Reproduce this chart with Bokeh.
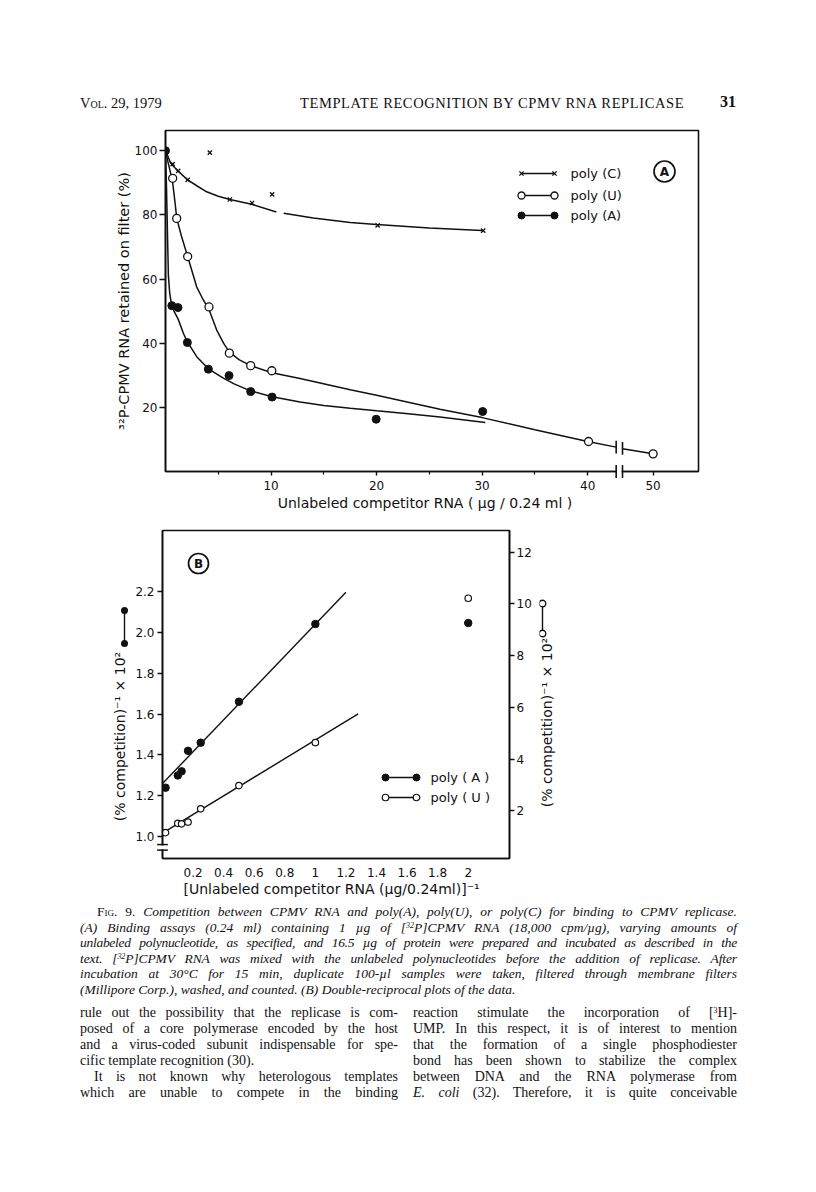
import math
from bokeh.plotting import figure
from bokeh.models import Range1d, LinearAxis, FixedTicker, Div
from bokeh.layouts import column, row
from bokeh.embed import file_html
from bokeh.resources import INLINE
from bokeh.core.properties import value

# ---------------- Panel A data ----------------
polyC_x = [0.68, 1.2, 2.1, 4.2, 6.1, 8.2, 10.1, 20.1, 30.1]
polyC_y = [95.8, 93.7, 90.9, 99.4, 84.8, 83.7, 86.4, 76.7, 75.1]
polyU_x = [0.68, 1.06, 2.1, 4.12, 6.05, 8.07, 10.07, 40.08, 50.0]
polyU_y = [91.4, 78.9, 67.0, 51.3, 36.9, 33.0, 31.4, 9.35, 5.5]
polyA_x = [0.0, 0.6, 1.18, 2.07, 4.06, 6.02, 8.07, 10.1, 19.96, 30.05]
polyA_y = [100.0, 51.7, 51.1, 40.2, 31.9, 29.9, 24.9, 23.2, 16.3, 18.7]

# hand-drawn fitted curves
curveC1_x = [0, 0.2, 0.49, 1.2, 2.1, 3.0, 3.9, 5.0, 6.1, 8.17, 10.5]
curveC1_y = [100, 98.5, 96.1, 93.6, 90.9, 89.0, 87.2, 85.8, 84.8, 83.3, 80.9]
curveC2_x = [11.2, 14.0, 17.5, 20.0, 25.0, 30.0]
curveC2_y = [80.5, 79.0, 77.6, 77.0, 75.9, 75.1]
curveU1_x = [0, 0.2, 0.45, 0.68, 0.9, 1.06, 1.5, 2.1, 2.96, 3.5, 4.12, 4.85, 5.5,
             6.05, 7.0, 8.07, 10.07, 12.75, 17.5, 20.0, 26.0, 30.0, 35.0, 40.0, 42.7]
curveU1_y = [100, 97, 93.5, 90.0, 84.0, 79.0, 73.5, 67.0, 57.5, 54.0, 50.5, 44.1, 40.0,
             37.2, 34.8, 33.0, 30.8, 29.0, 25.5, 23.8, 19.4, 16.8, 13.0, 9.35, 7.6]
curveU2_x = [47.1, 50.0]
curveU2_y = [7.1, 5.5]
curveA_x = [0, 0.1, 0.17, 0.27, 0.4, 0.55, 0.8, 1.2, 1.69, 2.07, 2.96, 4.06, 5.48,
            6.5, 8.0, 10.1, 12.75, 15.0, 17.5, 20.0, 23.0, 26.0, 30.3]
curveA_y = [100, 88, 77, 61.3, 55.5, 52.5, 50.0, 47.5, 43.1, 40.4, 35.8, 32.0, 29.1,
            27.3, 25.2, 23.3, 21.7, 20.6, 19.7, 18.9, 18.0, 17.0, 15.3]

xticksA = [10, 20, 30, 40, 50]
yticksA = [20, 40, 60, 80, 100]

# ---------------- Panel B data (double reciprocal) ----------------
inv_x = [0.02, 0.1, 0.125, 0.167, 0.25, 0.5, 1.0, 2.0]
invA_y = [1.24, 1.30, 1.32, 1.42, 1.46, 1.66, 2.04, 2.045]      # left axis
invU_y = [1.16, 1.52, 1.50, 1.57, 2.08, 2.98, 4.64, 10.22]      # right axis
fitA_x = [0.0, 1.2]
fitA_y = [1.26, 2.195]
fitU_x = [0.0, 1.28]
fitU_y = [1.14, 5.75]

xticksB = [0.2, 0.4, 0.6, 0.8, 1.0, 1.2, 1.4, 1.6, 1.8, 2.0]
yticksB_left = [1.0, 1.2, 1.4, 1.6, 1.8, 2.0, 2.2]
yticksB_right = [2, 4, 6, 8, 10, 12]

# ---------------- styling ----------------
SANS = "DejaVu Sans"
INK = "#111111"
AXIS_CUT = 3.8          # broken x axis in panel A: 47.1 -> 43.3
BREAK_L, BREAK_R = 42.7, 43.3
EM = "\u2003"


def apos(x):
    return x if x <= 43 else x - AXIS_CUT


def apos_list(xs):
    return [apos(v) for v in xs]


def style_axis(ax):
    ax.axis_line_color = INK
    ax.axis_line_width = 1.6
    ax.major_tick_line_color = INK
    ax.major_tick_line_width = 1.4
    ax.minor_tick_line_color = INK
    ax.minor_tick_line_width = 1.2
    ax.major_tick_in = 0
    ax.minor_tick_in = 0
    ax.major_label_text_font = SANS
    ax.major_label_text_font_size = "12px"
    ax.major_label_text_color = INK
    ax.axis_label_text_font = SANS
    ax.axis_label_text_font_style = "normal"
    ax.axis_label_text_color = INK
    ax.axis_label_text_font_size = "14px"


# ---- panel A geometry (page px) ----
A_L, A_T, A_W, A_H = 165, 130, 533, 341
A_X0, A_X1, A_Y0, A_Y1 = 0.0, 50.5, 0.0, 106.3
A_TOP_PAGE = 118


def adx(px):
    return A_X0 + (px - A_L) / A_W * (A_X1 - A_X0)


def ady(py):
    return A_Y1 - (py - A_T) / A_H * (A_Y1 - A_Y0)


pA = figure(frame_width=A_W, frame_height=A_H, min_border_left=A_L,
            min_border_right=800 - A_L - A_W, min_border_top=A_T - A_TOP_PAGE,
            min_border_bottom=47,
            x_range=Range1d(A_X0, A_X1), y_range=Range1d(A_Y0, A_Y1),
            output_backend="svg", toolbar_location=None)
pA.grid.visible = False
pA.outline_line_color = INK
pA.outline_line_width = 1.6
pA.background_fill_color = "white"
pA.border_fill_color = "white"

xa = pA.xaxis[0]
xa.ticker = FixedTicker(ticks=apos_list(xticksA), minor_ticks=[5, 15, 25, 35])
xa.major_label_overrides = {apos(t): str(t) for t in xticksA}
ya = pA.yaxis[0]
ya.ticker = FixedTicker(ticks=yticksA, minor_ticks=[])
style_axis(xa)
style_axis(ya)
xa.major_tick_out = 4
xa.minor_tick_out = 3
xa.major_label_standoff = 5
ya.major_tick_out = 6
ya.major_label_standoff = 2
ya.axis_label = "³²P-CPMV RNA retained on filter (%)"
ya.axis_label_text_font_size = "14.5px"
ya.axis_label_standoff = 0
xa.axis_label = "Unlabeled competitor RNA ( µg / 0.24 ml )" + EM
xa.axis_label_standoff = 2

# curves
for cx, cy in ((curveC1_x, curveC1_y), (curveC2_x, curveC2_y), (curveU1_x, curveU1_y),
               (curveU2_x, curveU2_y), (curveA_x, curveA_y)):
    pA.line(apos_list(cx), cy, line_color=INK, line_width=1.5)

# break marks on the poly(U) curve and on the x axis
pA.segment(x0=[BREAK_L, BREAK_R], x1=[BREAK_L, BREAK_R], y0=[5.6, 5.2], y1=[9.6, 9.2],
           line_color=INK, line_width=1.6)
pA.segment(x0=[BREAK_L + 0.08], x1=[BREAK_R - 0.08], y0=[0], y1=[0], line_color="white",
           line_width=3.5, level="overlay")
pA.segment(x0=[BREAK_L, BREAK_R], x1=[BREAK_L, BREAK_R], y0=[-2.0, -2.0], y1=[2.0, 2.0],
           line_color=INK, line_width=1.6, level="overlay")

# points
pA.scatter(apos_list(polyC_x), polyC_y, marker="x", size=6, line_color=INK, line_width=1.3)
pA.scatter(apos_list(polyU_x), polyU_y, marker="circle", size=8, fill_color="white",
           line_color=INK, line_width=1.3)
pA.scatter(apos_list(polyA_x), polyA_y, marker="circle", size=8, fill_color=INK,
           line_color=INK)

# legend (drawn like the original)
lx0, lx1, ltx = adx(521), adx(554), adx(570)
leg_y = [ady(173), ady(195), ady(215)]
pA.segment(x0=[lx0] * 3, x1=[lx1] * 3, y0=leg_y, y1=leg_y, line_color=INK, line_width=1.5)
pA.scatter([lx0, lx1], [leg_y[0]] * 2, marker="x", size=6, line_color=INK, line_width=1.3)
pA.scatter([lx0, lx1], [leg_y[1]] * 2, marker="circle", size=7, fill_color="white",
           line_color=INK, line_width=1.3)
pA.scatter([lx0, lx1], [leg_y[2]] * 2, marker="circle", size=7, fill_color=INK, line_color=INK)
pA.text([ltx] * 3, leg_y, text=["poly (C)", "poly (U)", "poly (A)"], text_font=value(SANS),
        text_font_size="13px", text_baseline="middle", text_align="left", text_color=INK)

# circled letter A
pA.scatter([adx(664)], [ady(171)], marker="circle", size=21, fill_color=None, line_color=INK,
           line_width=1.7)
pA.text([adx(664)], [ady(171)], text=["A"], text_font=value(SANS), text_font_size="12px",
        text_font_style="bold", text_baseline="middle", text_align="center", text_color=INK)

# ---- panel B geometry ----
B_L, B_T, B_W, B_H = 162, 530, 347, 328
B_X0, B_X1 = 0.0, 2.27
BL0, BL1 = 0.894, 2.497
BR0, BR1 = 0.16, 12.84
B_TOP_PAGE = 518
B_RIGHT_BORDER = 30
B_BOTTOM_BORDER = 44


def bdx(px):
    return B_X0 + (px - B_L) / B_W * (B_X1 - B_X0)


def bdy(py):
    return BL1 - (py - B_T) / B_H * (BL1 - BL0)


pB = figure(frame_width=B_W, frame_height=B_H, min_border_left=B_L,
            min_border_right=B_RIGHT_BORDER, min_border_top=B_T - B_TOP_PAGE,
            min_border_bottom=B_BOTTOM_BORDER, x_range=Range1d(B_X0, B_X1),
            y_range=Range1d(BL0, BL1), output_backend="svg", toolbar_location=None)
pB.extra_y_ranges = {"right": Range1d(BR0, BR1)}
pB.grid.visible = False
pB.outline_line_color = INK
pB.outline_line_width = 1.6
pB.background_fill_color = "white"
pB.border_fill_color = "white"
rax = LinearAxis(y_range_name="right")
pB.add_layout(rax, "right")

bx = pB.xaxis[0]
bx.ticker = FixedTicker(ticks=xticksB, minor_ticks=[])
bx.major_label_overrides = {1.0: "1", 2.0: "2"}
by = pB.yaxis[0]
by.ticker = FixedTicker(ticks=yticksB_left, minor_ticks=[])
by.major_label_overrides = {1.0: "1.0", 2.0: "2.0"}
rax.ticker = FixedTicker(ticks=yticksB_right, minor_ticks=[])
for ax in (bx, by, rax):
    style_axis(ax)
    ax.major_tick_out = 5
bx.major_tick_out = 0
bx.major_label_standoff = 9
by.major_label_standoff = 3
rax.major_label_standoff = 2

LBL_B = "(% competition)⁻¹ × 10²"
by.axis_label = LBL_B + EM * 6
by.axis_label_standoff = 4
bx.axis_label = "[Unlabeled  competitor  RNA (µg/0.24ml)]⁻¹"
bx.axis_label_standoff = 1

pB.line(fitA_x, fitA_y, line_color=INK, line_width=1.4)
pB.line(fitU_x, fitU_y, line_color=INK, line_width=1.4, y_range_name="right")
pB.scatter(inv_x, invA_y, marker="circle", size=7.5, fill_color=INK, line_color=INK)
pB.scatter(inv_x, invU_y, marker="circle", size=6.5, fill_color="white", line_color=INK,
           line_width=1.2, y_range_name="right")

# break on the left axis
pB.segment(x0=[0], x1=[0], y0=[0.938], y1=[0.958], line_color="white", line_width=4,
           level="overlay")
pB.segment(x0=[-0.035, -0.035], x1=[0.035, 0.035], y0=[0.962, 0.935], y1=[0.962, 0.935],
           line_color=INK, line_width=1.5, level="overlay")

# legend B
bl0, bl1, btx = bdx(385), bdx(416), bdx(430)
by_leg = [bdy(777), bdy(797)]
pB.segment(x0=[bl0] * 2, x1=[bl1] * 2, y0=by_leg, y1=by_leg, line_color=INK, line_width=1.5)
pB.scatter([bl0, bl1], [by_leg[0]] * 2, marker="circle", size=7, fill_color=INK, line_color=INK)
pB.scatter([bl0, bl1], [by_leg[1]] * 2, marker="circle", size=6.5, fill_color="white",
           line_color=INK, line_width=1.2)
pB.text([btx] * 2, by_leg, text=["poly ( A )", "poly ( U )"], text_font=value(SANS),
        text_font_size="13px", text_baseline="middle", text_align="left", text_color=INK)

# circled B
pB.scatter([bdx(198)], [bdy(563)], marker="circle", size=20, fill_color=None, line_color=INK,
           line_width=1.7)
pB.text([bdx(198)], [bdy(563)], text=["B"], text_font=value(SANS), text_font_size="12px",
        text_font_style="bold", text_baseline="middle", text_align="center", text_color=INK)

# left axis-label key symbol (outside the frame): dot-bar-dot with round-capped strokes
kx_l = bdx(124)
k_l = [bdy(610), bdy(643)]
eps = 0.0005
pB.segment(x0=[kx_l], x1=[kx_l], y0=[k_l[0]], y1=[k_l[1]],
           line_color=INK, line_width=1.4, level="overlay")
pB.segment(x0=[kx_l] * 2, x1=[kx_l] * 2, y0=k_l, y1=[v + eps for v in k_l],
           line_color=INK, line_width=7, line_cap="round", level="overlay")

# ---- strip to the right of panel B: right-hand axis title and its key (page px coords) ----
R_L = B_L + B_W + B_RIGHT_BORDER
R_W = 40
pR = figure(frame_width=R_W, frame_height=B_H, min_border_left=0,
            min_border_right=800 - R_L - R_W, min_border_top=B_T - B_TOP_PAGE,
            min_border_bottom=B_BOTTOM_BORDER, x_range=Range1d(R_L, R_L + R_W),
            y_range=Range1d(B_T + B_H, B_T), x_axis_type=None, y_axis_type=None,
            output_backend="svg", toolbar_location=None)
pR.grid.visible = False
pR.outline_line_color = None
pR.background_fill_color = "white"
pR.border_fill_color = "white"
pR.segment(x0=[542], x1=[542], y0=[603], y1=[633], line_color=INK, line_width=1.4)
pR.scatter([542, 542], [603, 633], marker="circle", size=6.5, fill_color="white",
           line_color=INK, line_width=1.3)
pR.text([546], [722], text=[LBL_B], angle=math.pi / 2, text_font=value(SANS),
        text_font_size="14px", text_align="center", text_baseline="middle", text_color=INK)

# ---------------- page text ----------------
header = Div(width=800, height=A_TOP_PAGE, margin=0, text="""
<div style="position:relative;width:800px;height:118px;font-family:'Liberation Serif',serif;color:#111;">
<div style="position:absolute;left:80px;top:95px;font-size:14.5px;line-height:16px;font-variant:small-caps;">Vol. 29, 1979</div>
<div style="position:absolute;left:300px;top:95px;font-size:14.5px;line-height:16px;letter-spacing:0.6px;">TEMPLATE RECOGNITION BY CPMV RNA REPLICASE</div>
<div style="position:absolute;left:720px;top:94px;font-size:16px;line-height:16px;font-weight:bold;">31</div>
</div>""")

cap_lines = [
    ('<span style="font-style:normal;font-variant:small-caps;">Fig. 9.</span> Competition between CPMV RNA and poly(A), poly(U), or poly(C) for binding to CPMV replicase.', True, 17, 0),
    ('(A) Binding assays (0.24 ml) containing 1 µg of [<sup>32</sup>P]CPMV RNA (18,000 cpm/µg), varying amounts of', True, 0, 0),
    ('unlabeled polynucleotide, as specified, and 16.5 µg of protein were prepared and incubated as described in the', True, 0, -0.28),
    ('text. [<sup>32</sup>P]CPMV RNA was mixed with the unlabeled polynucleotides before the addition of replicase. After', True, 0, -0.1),
    ('incubation at 30°C for 15 min, duplicate 100-µl samples were taken, filtered through membrane filters', True, 0, 0),
    ('(Millipore Corp.), washed, and counted. (B) Double-reciprocal plots of the data.', False, 0, 0),
]
left_lines = [
    ('rule out the possibility that the replicase is com-', True, 0),
    ('posed of a core polymerase encoded by the host', True, 0),
    ('and a virus-coded subunit indispensable for spe-', True, 0),
    ('cific template recognition (30).', False, 0),
    ('It is not known why heterologous templates', True, 14),
    ('which are unable to compete in the binding', True, 0),
]
right_lines = [
    ('reaction stimulate the incorporation of [<sup>3</sup>H]-', True, 0),
    ('UMP. In this respect, it is of interest to mention', True, 0),
    ('that the formation of a single phosphodiester', True, 0),
    ('bond has been shown to stabilize the complex', True, 0),
    ('between DNA and the RNA polymerase from', True, 0),
    ('<i>E. coli</i> (32). Therefore, it is quite conceivable', True, 0),
]


def line_html(txt, just, indent, left, top, width, size, italic, ls=0.0):
    al = "justify" if just else "left"
    st = "italic" if italic else "normal"
    return (f'<div style="position:absolute;left:{left + indent}px;top:{top:.1f}px;'
            f'width:{width - indent}px;font-size:{size}px;line-height:16px;font-style:{st};'
            f'letter-spacing:{ls}px;text-align:{al};text-align-last:{al};white-space:nowrap;">{txt}</div>')


parts = []
for i, (t, j, ind, ls) in enumerate(cap_lines):
    parts.append(line_html(t, j, ind, 80, 2 + i * 15.6, 657, 13.5, True, ls))
for i, (t, j, ind) in enumerate(left_lines):
    parts.append(line_html(t, j, ind, 80, 103 + i * 16, 318, 14, False))
for i, (t, j, ind) in enumerate(right_lines):
    parts.append(line_html(t, j, ind, 413, 103 + i * 16, 324, 14, False))

body = Div(width=800, height=210, margin=0, text=(
    '<style>sup{font-size:8px;line-height:0;vertical-align:4px;}</style>'
    '<div style="position:relative;width:800px;height:210px;font-family:\'Liberation Serif\',serif;color:#111;">'
    + "".join(parts) + '</div>'))

layout = column(header, pA, row(pB, pR, spacing=0), body, spacing=0)
open("out.html", "w").write(file_html(layout, INLINE))
